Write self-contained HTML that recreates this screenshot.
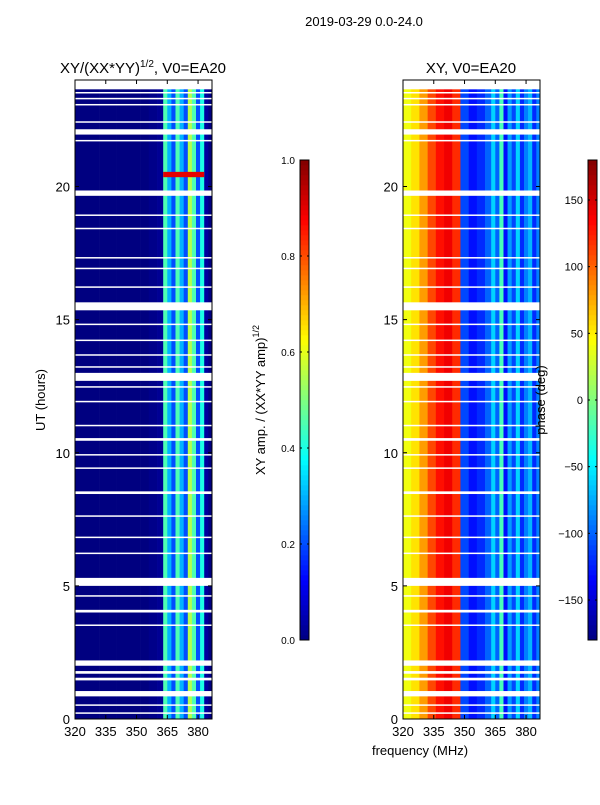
<!DOCTYPE html>
<html><head><meta charset="utf-8"><style>
body{margin:0;background:#fff;font-family:"Liberation Sans",sans-serif}
svg text{font-family:"Liberation Sans",sans-serif;fill:#000}
</style></head><body>
<svg id="s" width="600" height="800" xmlns="http://www.w3.org/2000/svg">
<text x="364" y="26" font-size="13" text-anchor="middle">2019-03-29 0.0-24.0</text>
<text x="143" y="73" font-size="15" text-anchor="middle">XY/(XX*YY)<tspan font-size="10" dy="-6">1/2</tspan><tspan dy="6">, V0=EA20</tspan></text>
<text x="471" y="73" font-size="15" text-anchor="middle">XY, V0=EA20</text>
<text x="45" y="400" font-size="13" text-anchor="middle" transform="rotate(-90 45 400)">UT (hours)</text>
<text x="420" y="755" font-size="13" text-anchor="middle">frequency (MHz)</text>
<text x="265" y="400" font-size="13" text-anchor="middle" transform="rotate(-90 265 400)">XY amp. / (XX*YY amp)<tspan font-size="9" dy="-6">1/2</tspan></text>
<g id="g1"></g>
<g id="g2"></g>
<g id="axes"></g>
<text x="545" y="400" font-size="13" text-anchor="middle" transform="rotate(-90 545 400)">phase (deg)</text>
</svg>
<script>
// data
const freqCols=[320,324,328,332,336,340,344,348,352,356,360,363,365,367,369,371,373,375,377,379,381,383,385];
const ampCols=[0.0,0.0,0.0,0.0,0.0,0.0,0.0,0.0,0.0,0.01,0.02,0.45,0.3,0.2,0.45,0.3,0.2,0.55,0.45,0.2,0.4,0.03,0.0];
const phaseCols=[40,55,80,110,130,140,120,-110,-130,-120,-100,-60,-100,-20,-130,-80,-110,-60,-120,-90,-70,-120,-90];
const gaps=[[23.65,24],[23.5,23.55],[23.3,23.33],[23.05,23.1],[22.4,22.45],[21.95,22.15],[21.7,21.75],[19.65,19.85],[18.9,18.95],[18.4,18.45],[17.3,17.35],[16.9,16.95],[16.2,16.25],[15.35,15.65],[14.8,14.85],[14.2,14.25],[13.65,13.7],[13.2,13.25],[12.7,13.0],[12.45,12.5],[11.9,11.95],[11.0,11.05],[10.45,10.55],[9.9,9.95],[9.4,9.45],[8.45,8.55],[7.6,7.65],[6.8,6.85],[6.2,6.25],[5.0,5.3],[4.6,4.65],[4.0,4.1],[3.5,3.55],[2.0,2.2],[1.7,1.8],[1.45,1.55],[0.85,1.05],[0.5,0.55],[0.2,0.25]];
const hotHours=[20.35,20.55];
const amp2Ticks=[0,0.2,0.4,0.6,0.8,1.0];
const phaseTicks=[-150,-100,-50,0,50,100,150];
const xTicks=[320,335,350,365,380];
const yTicks=[0,5,10,15,20];
// axes
const fx=(f,x0)=>x0+(f-320)*137/66.8;
const fy=h=>719-h*639/24;
function jet(v){v=Math.max(0,Math.min(1,v));const c=t=>Math.round(255*Math.max(0,Math.min(1,1.5-Math.abs(4*v-t))));return `rgb(${c(3)},${c(2)},${c(1)})`;}
const NS="http://www.w3.org/2000/svg";
function el(t,a,p){const e=document.createElementNS(NS,t);for(const k in a)e.setAttribute(k,a[k]);p.appendChild(e);return e;}
const g1=document.getElementById('g1'),g2=document.getElementById('g2'),ax=document.getElementById('axes');
function drawPanel(g,x0,vals,isPhase){
  for(let i=0;i<freqCols.length;i++){
    const f0=freqCols[i],f1=i+1<freqCols.length?freqCols[i+1]:386.8;
    let v=isPhase?(vals[i]+180)/360:vals[i];
    const r=el('rect',{x:fx(f0,x0),y:fy(24),width:fx(f1,x0)-fx(f0,x0)+0.3,height:639,fill:jet(v)},g);
    
    
  }
  if(!isPhase){
    const r=el('rect',{x:fx(363,x0),y:fy(hotHours[1]),width:fx(383,x0)-fx(363,x0),height:fy(hotHours[0])-fy(hotHours[1]),fill:jet(0.9)},g);
    
    
  }
  for(const [a,b] of gaps){
    const r=el('rect',{x:x0,y:fy(b),width:137,height:Math.max(1.5,fy(a)-fy(b)),fill:'#fff'},g);
    
    
  }
  const fr=el('rect',{x:x0,y:80,width:137,height:639,fill:'none',stroke:'#000','stroke-width':1},ax);
  
  
  for(const t of xTicks){
    const x=fx(t,x0);
    el('line',{x1:x,x2:x,y1:719,y2:715,stroke:'#000'},ax);el('line',{x1:x,x2:x,y1:80,y2:84,stroke:'#000'},ax);
    const tx=el('text',{x:x,y:736,'font-size':13,'text-anchor':'middle'},ax);tx.textContent=t;
    
    
  }
  for(const t of yTicks){
    const y=fy(t);
    el('line',{x1:x0,x2:x0+4,y1:y,y2:y,stroke:'#000'},ax);el('line',{x1:x0+137,x2:x0+133,y1:y,y2:y,stroke:'#000'},ax);
    const tx=el('text',{x:x0-5,y:y+5,'font-size':13,'text-anchor':'end'},ax);tx.textContent=t;
    
    
  }
}
drawPanel(g1,75,ampCols,false);
drawPanel(g2,403,phaseCols,true);
function colorbar(x,ticks,lo,hi,isAmp){
  for(let i=0;i<96;i++){el('rect',{x:x,y:640-(i+1)*5,width:9,height:5.3,fill:jet((i+0.5)/96)},ax);}
  const b=el('rect',{x:x,y:160,width:9,height:480,fill:'none',stroke:'#000'},ax);
  
  
  for(const t of ticks){const y=640-(t-lo)/(hi-lo)*480;
    el('line',{x1:x,x2:x+2,y1:y,y2:y,stroke:'#000'},ax);el('line',{x1:x+9,x2:x+7,y1:y,y2:y,stroke:'#000'},ax);
    const tx=el('text',{x:x-5,y:y+4,'font-size':isAmp?10:11,'text-anchor':'end'},ax);
    tx.textContent=isAmp?t.toFixed(1):(t<0?'\u2212'+(-t):t);
    
    
  }
}
colorbar(300,amp2Ticks,0,1,true);
colorbar(588,phaseTicks,-180,180,false);
</script>
</body></html>
